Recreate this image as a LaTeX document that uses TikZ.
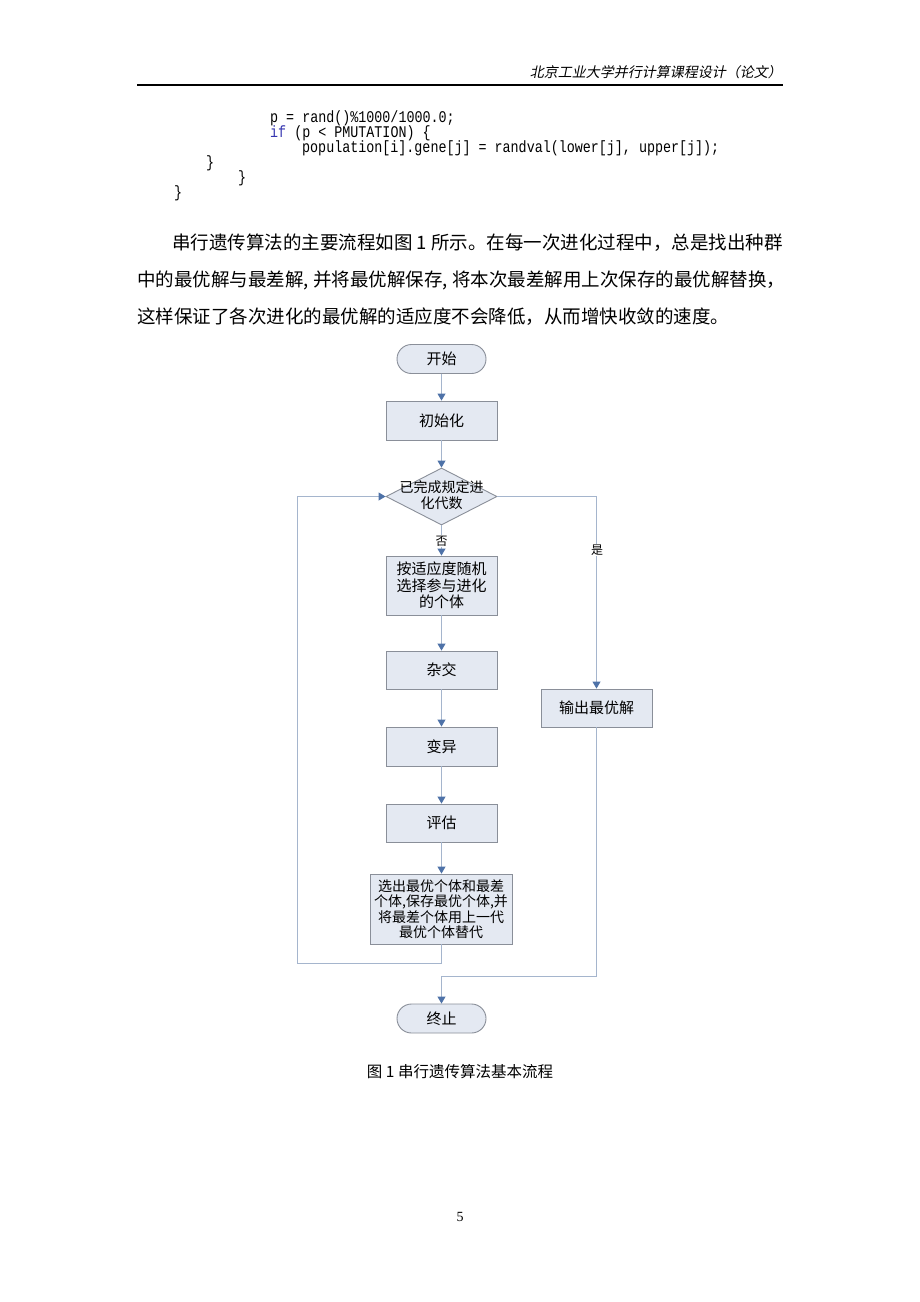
\documentclass[tikz,border=0pt]{standalone}
\usepackage{fontspec}
\setmainfont{Liberation Serif}
\newfontfamily\cjk{Noto Sans CJK SC}
\newfontfamily\cjkit[FakeSlant=0.2]{Noto Sans CJK SC}
\newfontfamily\codefont[FakeStretch=0.82]{Liberation Mono}
\usetikzlibrary{arrows.meta,shapes.geometric,shapes.misc}
\definecolor{boxfill}{HTML}{E4E9F2}
\definecolor{boxdraw}{HTML}{8A8F99}
\definecolor{flowline}{HTML}{A5B5CD}
\definecolor{arrowcol}{HTML}{4E72A8}
\definecolor{codeblue}{HTML}{3535B0}
\tikzset{
  procbox/.style={draw=boxdraw, fill=boxfill, line width=0.9pt, minimum width=111pt, inner sep=0pt, align=center, font=\cjk\fontsize{15}{16.7}\selectfont},
  termbox/.style={draw=boxdraw, fill=boxfill, line width=0.9pt, rounded rectangle, minimum width=89pt, minimum height=29pt, inner sep=0pt, font=\cjk\fontsize{15}{15}\selectfont},
  flow/.style={draw=flowline, line width=0.9pt},
  flowarrow/.style={flow, -{Triangle[width=8pt,length=7pt,color=arrowcol]}},
  codeline/.style={anchor=west, inner sep=0pt, font=\codefont\fontsize{16.3}{16.3}\selectfont},
  paraline/.style={anchor=west, inner sep=0pt, font=\cjk\fontsize{18.5}{18.5}\selectfont},
  yesno/.style={fill=white, inner sep=1pt, font=\cjk\fontsize{12}{12}\selectfont}
}
\begin{document}
\begin{tikzpicture}[x=1pt,y=-1pt]
\fill[white] (0,0) rectangle (920,1302);
\useasboundingbox (0,0) rectangle (920,1302);

% header
\node[anchor=east, inner sep=0pt, font=\cjkit\fontsize{14}{14}\selectfont] (hdr) at (782,72) {北京工业大学并行计算课程设计（论文）};
\draw[line width=1.5pt] (137,85) -- (783,85);

% code
\node[codeline] (c1) at (270,118) {p = rand()\%1000/1000.0;};
\node[codeline] (c2) at (270,133) {{\color{codeblue}if} (p < PMUTATION) \{};
\node[codeline] (c3) at (302,148) {population[i].gene[j] = randval(lower[j], upper[j]);};
\node[codeline] (c4) at (206,163) {\}};
\node[codeline] (c5) at (238,178) {\}};
\node[codeline] (c6) at (174,193) {\}};

% paragraph
\node[paraline] (p1) at (172,243) {串行遗传算法的主要流程如图 1 所示。在每一次进化过程中，总是找出种群};
\node[paraline] (p2) at (137,280) {中的最优解与最差解,\hspace{4.5pt}并将最优解保存,\hspace{4.5pt}将本次最差解用上次保存的最优解替换，};
\node[paraline] (p3) at (137,317) {这样保证了各次进化的最优解的适应度不会降低，从而增快收敛的速度。};

% flowchart
\node[termbox] (start) at (441.5,359) {开始};
\node[procbox, minimum height=39pt] (init) at (441.5,420.5) {初始化};
\node[draw=boxdraw, fill=boxfill, line width=0.9pt, diamond, minimum width=111pt, minimum height=57pt, inner sep=0pt] (dec) at (441.5,496.5) {};
\node[align=center, inner sep=0pt, font=\cjk\fontsize{14}{16}\selectfont] (dectext) at (441.5,495.5) {已完成规定进\\化代数};
\node[procbox, minimum height=59pt] (sel) at (441.5,585.5) {按适应度随机\\选择参与进化\\的个体};
\node[procbox, minimum height=38pt] (cross) at (441.5,670) {杂交};
\node[procbox, minimum height=39pt] (mut) at (441.5,746.5) {变异};
\node[procbox, minimum height=38pt] (eval) at (441.5,823) {评估};
\node[procbox, minimum width=142pt, minimum height=70pt, font=\cjk\fontsize{14}{15.5}\selectfont] (best) at (441,909) {选出最优个体和最差\\个体,保存最优个体,并\\将最差个体用上一代\\最优个体替代};
\node[procbox, minimum height=38pt] (out) at (596.5,708) {输出最优解};
\node[termbox] (stop) at (441.5,1018.5) {终止};

\coordinate (lb) at (441,963);
\coordinate (ll) at (297,963);
\coordinate (lt) at (297,496.5);
\coordinate (rt) at (596.5,496.5);
\coordinate (rb) at (596.5,976);
\coordinate (rm) at (441.5,976);

\draw[flowarrow] (start) -- (init);
\draw[flowarrow] (init) -- (dec);
\draw[flowarrow] (dec) -- (sel);
\draw[flowarrow] (sel) -- (cross);
\draw[flowarrow] (cross) -- (mut);
\draw[flowarrow] (mut) -- (eval);
\draw[flowarrow] (eval.south) -- (best.north -| eval.south);
\draw[flowarrow] (best.south) -- (lb) -- (ll) -- (lt) -- (dec.west);
\draw[flowarrow] (dec.east) -- (rt) -- (out.north);
\draw[flowarrow] (out.south) -- (rb) -- (rm) -- (stop.north);

\node[yesno] (no) at (441.5,541) {否};
\node[yesno] (yes) at (597,550) {是};

% caption and page number
\node[inner sep=0pt, font=\cjk\fontsize{15.5}{15.5}\selectfont] (cap) at (460,1072) {图 1 串行遗传算法基本流程};
\node[inner sep=0pt, font=\fontsize{14}{14}\selectfont] (pg) at (460,1217) {5};
\end{tikzpicture}
\end{document}
